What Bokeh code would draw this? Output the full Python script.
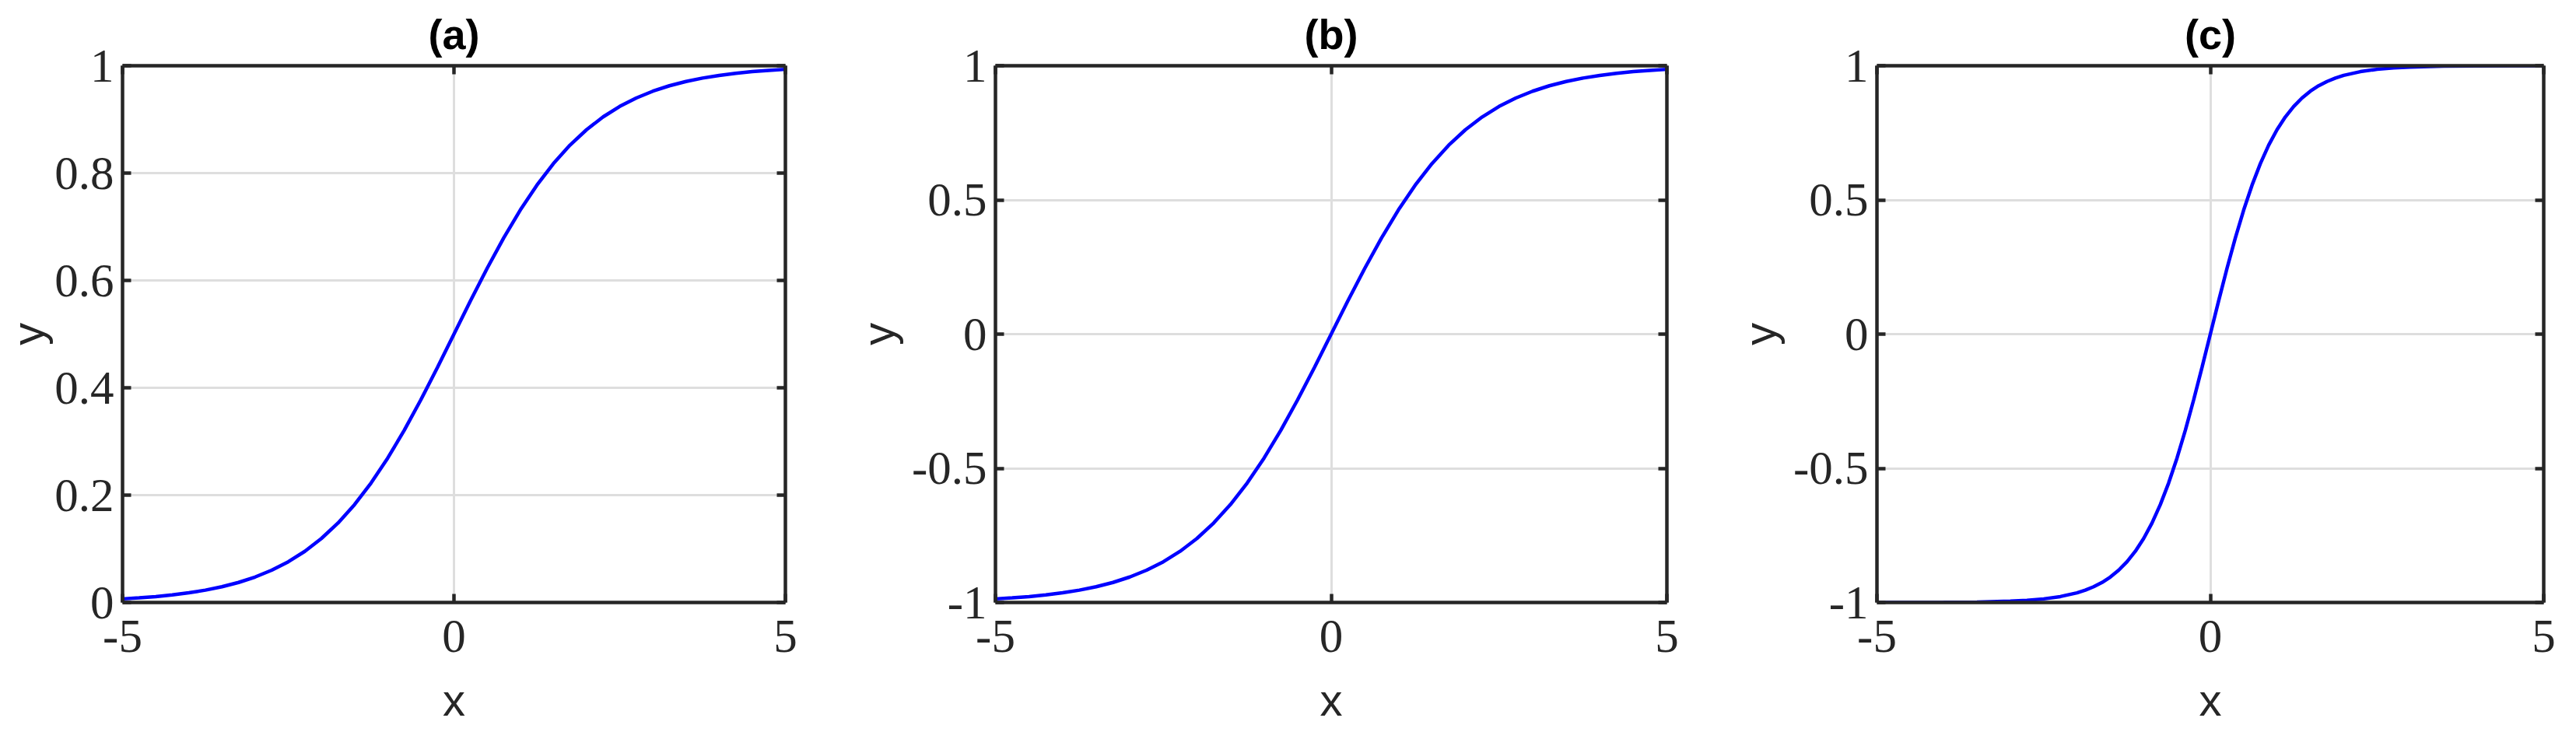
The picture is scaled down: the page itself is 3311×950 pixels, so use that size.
from bokeh.plotting import figure
from bokeh.layouts import row
from bokeh.models import Range1d, FixedTicker, LinearAxis, CustomJSTickFormatter
from bokeh.embed import file_html
from bokeh.resources import INLINE

# ---- data ----
titles = ["(a)", "(b)", "(c)"]
x_label = "x"
y_label = "y"
x_ticks = [-5, 0, 5]
y_ticks_a = [0, 0.2, 0.4, 0.6, 0.8, 1]
y_ticks_bc = [-1, -0.5, 0, 0.5, 1]

x_ab = [-5, -4.75, -4.5, -4.25, -4, -3.75, -3.5, -3.25, -3, -2.75, -2.5, -2.25, -2,
        -1.75, -1.5, -1.25, -1, -0.75, -0.5, -0.25, 0, 0.25, 0.5, 0.75, 1, 1.25,
        1.5, 1.75, 2, 2.25, 2.5, 2.75, 3, 3.25, 3.5, 3.75, 4, 4.25, 4.5, 4.75, 5]
y_a = [0.0067, 0.0086, 0.0110, 0.0141, 0.0180, 0.0230, 0.0293, 0.0373, 0.0474, 0.0601,
       0.0759, 0.0953, 0.1192, 0.1480, 0.1824, 0.2227, 0.2689, 0.3208, 0.3775, 0.4378,
       0.5, 0.5622, 0.6225, 0.6792, 0.7311, 0.7773, 0.8176, 0.8520, 0.8808, 0.9047,
       0.9241, 0.9399, 0.9526, 0.9627, 0.9707, 0.9770, 0.9820, 0.9859, 0.9890, 0.9914,
       0.9933]
y_b = [-0.9866, -0.9828, -0.9780, -0.9718, -0.9640, -0.9540, -0.9414, -0.9254, -0.9051,
       -0.8798, -0.8483, -0.8093, -0.7616, -0.7039, -0.6351, -0.5546, -0.4621, -0.3584,
       -0.2449, -0.1244, 0, 0.1244, 0.2449, 0.3584, 0.4621, 0.5546, 0.6351, 0.7039,
       0.7616, 0.8093, 0.8483, 0.8798, 0.9051, 0.9254, 0.9414, 0.9540, 0.9640, 0.9718,
       0.9780, 0.9828, 0.9866]
x_c = [-5, -4.5, -4, -3.5, -3, -2.75, -2.5, -2.25, -2, -1.875, -1.75, -1.625, -1.5,
       -1.375, -1.25, -1.125, -1, -0.875, -0.75, -0.625, -0.5, -0.375, -0.25, -0.125, 0,
       0.125, 0.25, 0.375, 0.5, 0.625, 0.75, 0.875, 1, 1.125, 1.25, 1.375, 1.5, 1.625,
       1.75, 1.875, 2, 2.25, 2.5, 2.75, 3, 3.5, 4, 4.5, 5]
y_c = [-0.9999, -0.9998, -0.9993, -0.9982, -0.9951, -0.9918, -0.9866, -0.9780, -0.9640,
       -0.9540, -0.9414, -0.9254, -0.9051, -0.8798, -0.8483, -0.8093, -0.7616, -0.7039,
       -0.6351, -0.5546, -0.4621, -0.3584, -0.2449, -0.1244, 0, 0.1244, 0.2449, 0.3584,
       0.4621, 0.5546, 0.6351, 0.7039, 0.7616, 0.8093, 0.8483, 0.8798, 0.9051, 0.9254,
       0.9414, 0.9540, 0.9640, 0.9780, 0.9866, 0.9918, 0.9951, 0.9982, 0.9993, 0.9998,
       0.9999]

# ---- style ----
AX = "#262626"
GRID = "#dedede"
TICK_FONT = "Liberation Serif"
LABEL_FONT = "Liberation Sans"
H = 934
TOP = 84
BOTTOM = 159


def style_axis(ax, ticks, show_labels, label_standoff):
    ax.ticker = FixedTicker(ticks=ticks)
    ax.axis_line_color = AX
    ax.axis_line_width = 4.5
    ax.major_tick_line_color = AX
    ax.major_tick_line_width = 4.5
    ax.major_tick_in = 11
    ax.major_tick_out = 0
    ax.minor_tick_line_color = None
    ax.major_label_standoff = label_standoff
    if show_labels:
        ax.formatter = CustomJSTickFormatter(code="return tick.toString();")
        ax.major_label_text_font = TICK_FONT
        ax.major_label_text_font_size = "61px"
        ax.major_label_text_color = AX
        ax.axis_label_text_font = LABEL_FONT
        ax.axis_label_text_font_style = "normal"
        ax.axis_label_text_font_size = "58px"
        ax.axis_label_text_color = AX
    else:
        ax.formatter = CustomJSTickFormatter(code="return '';")
        ax.major_label_text_font_size = "1px"


def make_panel(x, y, y_ticks, title, left, frame_w, right, ylab_standoff):
    p = figure(width=left + frame_w + right, height=H,
               x_range=Range1d(-5, 5), y_range=Range1d(y_ticks[0], y_ticks[-1]),
               output_backend="svg", toolbar_location=None,
               min_border_left=left, min_border_right=right,
               min_border_top=TOP, min_border_bottom=BOTTOM)
    p.outline_line_color = None
    p.background_fill_color = "white"
    p.border_fill_color = "white"

    xa = p.xaxis[0]
    ya = p.yaxis[0]
    style_axis(xa, x_ticks, True, 23)
    style_axis(ya, y_ticks, True, 11)
    xa.axis_label = x_label
    xa.axis_label_standoff = 26
    ya.axis_label = y_label
    ya.axis_label_standoff = ylab_standoff

    top_ax = LinearAxis()
    right_ax = LinearAxis()
    style_axis(top_ax, x_ticks, False, 0)
    style_axis(right_ax, y_ticks, False, 0)
    p.add_layout(top_ax, "above")
    p.add_layout(right_ax, "right")

    p.xgrid.ticker = FixedTicker(ticks=x_ticks)
    p.ygrid.ticker = FixedTicker(ticks=y_ticks)
    for g in (p.xgrid, p.ygrid):
        g.grid_line_color = GRID
        g.grid_line_width = 3

    p.line(x, y, line_color="#0000ff", line_width=4.5)

    p.title.text = title
    p.title.align = "center"
    p.title.standoff = 21
    p.title.text_font = LABEL_FONT
    p.title.text_font_style = "bold"
    p.title.text_font_size = "54px"
    p.title.text_color = "#000000"
    return p


pa = make_panel(x_ab, y_a, y_ticks_a, titles[0], 151, 858, 33, -1)
pb = make_panel(x_ab, y_b, y_ticks_bc, titles[1], 237, 863, 30, 8)
pc = make_panel(x_c, y_c, y_ticks_bc, titles[2], 240, 857, 26, 8)

layout = row(pa, pb, pc)
open("out.html", "w").write(file_html(layout, INLINE))
